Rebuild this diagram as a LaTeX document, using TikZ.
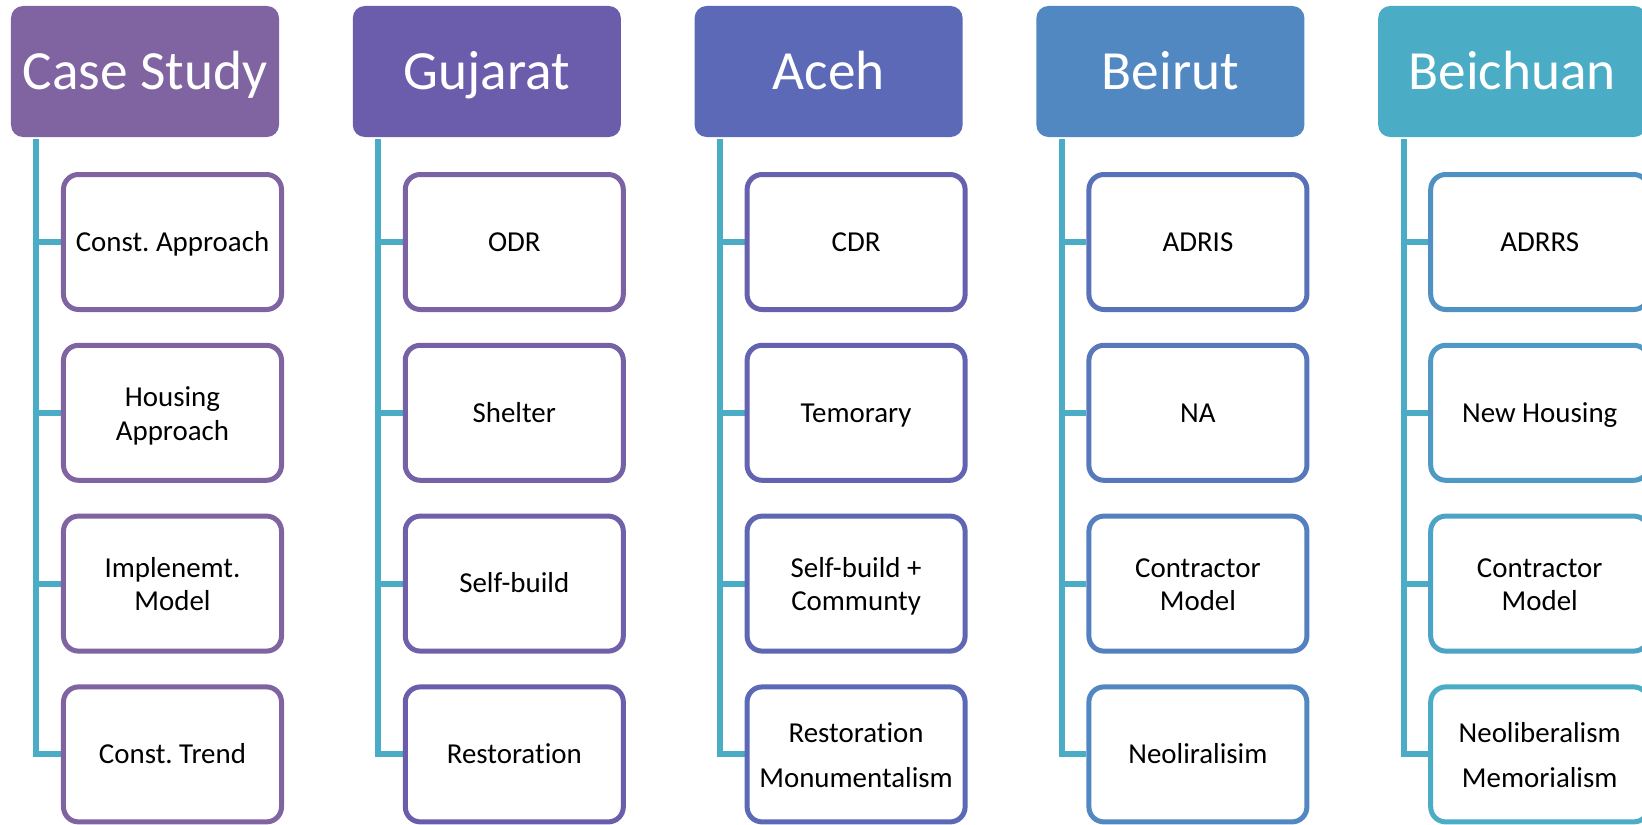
\documentclass[tikz,border=0pt]{standalone}
\usepackage{fontspec}
\setmainfont[Ligatures=NoCommon]{Carlito}
\usetikzlibrary{backgrounds}
% column colours, purple through to aqua
\definecolor{hA}{HTML}{8064A2}
\definecolor{hB}{HTML}{6B5DAB}
\definecolor{hC}{HTML}{5B69B6}
\definecolor{hD}{HTML}{5288C2}
\definecolor{hE}{HTML}{4BACC6}
\definecolor{trunk}{HTML}{4BACC6}
% invisible struts that keep the text of every item box centred on its caps
\newcommand{\itemstrut}{\rule[-7bp]{0pt}{32.7bp}}
\newcommand{\twolines}[3][3bp]{%
  \begin{tabular}{@{}c@{}}\rule{0pt}{30bp}#2\\[#1]#3\rule[-7bp]{0pt}{7bp}\end{tabular}}
\begin{document}
\frenchspacing
\begin{tikzpicture}[x=1bp,y=-1bp,
  head/.style={fill=#1, text=white, rounded corners=12bp,
    minimum width=268bp, minimum height=131bp, inner sep=0pt,
    font=\fontsize{55.5}{62}\selectfont, text height=36bp, text depth=0bp},
  item/.style={draw=#1, line width=5bp, fill=white, rounded corners=15bp,
    minimum width=218bp, minimum height=135bp, inner sep=0pt,
    align=center, font=\fontsize{29}{31}\selectfont},
  link/.style={draw=trunk, line width=6bp}]
\useasboundingbox (0,0) rectangle (1642,824);
\clip (0,0) rectangle (1642,824);
\renewcommand{\arraystretch}{1}
\setlength{\tabcolsep}{0pt}

% headers
\node[head=hA] (h0) at (145.0,71.5) {Case Study};
\node[head=hB] (h1) at (486.8,71.5) {Gujarat};
\node[head=hC] (h2) at (828.6,71.5) {Aceh};
\node[head=hD] (h3) at (1170.4,71.5) {Beirut};
\node[head=hE] (h4) at (1512.2,71.5) {Beichuan};

% Case Study
\node[item=hA] (c0-1) at (172.5,242.0) {\itemstrut Const. Approach};
\node[item=hA] (c0-2) at (172.5,412.8) {\twolines{Housing}{Approach}};
\node[item=hA] (c0-3) at (172.5,583.6) {\twolines{Implenemt.}{Model}};
\node[item=hA] (c0-4) at (172.5,754.4) {\itemstrut Const. Trend};

% Gujarat
\node[item=hB!25!hA] (c1-1) at (514.3,242.0) {\itemstrut ODR};
\node[item=hB!50!hA] (c1-2) at (514.3,412.8) {\itemstrut Shelter};
\node[item=hB!75!hA] (c1-3) at (514.3,583.6) {\itemstrut Self-build};
\node[item=hB] (c1-4) at (514.3,754.4) {\itemstrut Restoration};

% Aceh
\node[item=hC!25!hB] (c2-1) at (856.1,242.0) {\itemstrut CDR};
\node[item=hC!50!hB] (c2-2) at (856.1,412.8) {\itemstrut Temorary};
\node[item=hC!75!hB] (c2-3) at (856.1,583.6) {\twolines{Self-build +}{Communty}};
\node[item=hC] (c2-4) at (856.1,754.4) {\twolines[14bp]{Restoration}{Monumentalism}};

% Beirut
\node[item=hD!25!hC] (c3-1) at (1197.9,242.0) {\itemstrut ADRIS};
\node[item=hD!50!hC] (c3-2) at (1197.9,412.8) {\itemstrut NA};
\node[item=hD!75!hC] (c3-3) at (1197.9,583.6) {\twolines{Contractor}{Model}};
\node[item=hD] (c3-4) at (1197.9,754.4) {\itemstrut Neoliralisim};

% Beichuan
\node[item=hE!25!hD] (c4-1) at (1539.7,242.0) {\itemstrut ADRRS};
\node[item=hE!50!hD] (c4-2) at (1539.7,412.8) {\itemstrut New Housing};
\node[item=hE!75!hD] (c4-3) at (1539.7,583.6) {\twolines{Contractor}{Model}};
\node[item=hE] (c4-4) at (1539.7,754.4) {\twolines[14bp]{Neoliberalism}{Memorialism}};

% trunks from each header down to its items
\begin{scope}[on background layer]
\foreach \k in {0,...,4}{
  \coordinate (t\k) at ([xshift=25.5bp,yshift=-2bp]h\k.south west);
  \foreach \r in {1,...,4}{
    \draw[link] (t\k) |- (c\k-\r.west);
  }
}
\end{scope}
\end{tikzpicture}
\end{document}
